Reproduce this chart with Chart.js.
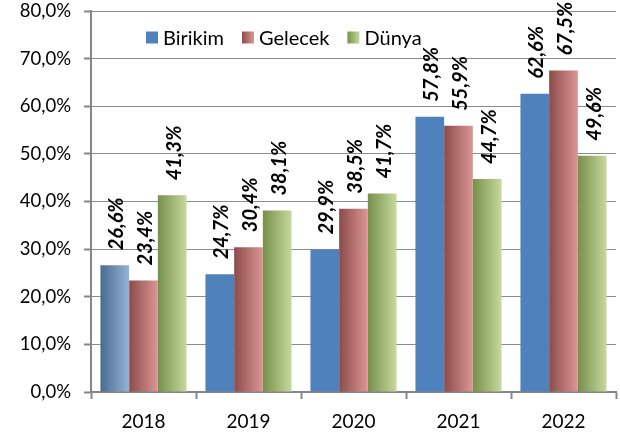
<!DOCTYPE html>
<html>
<head>
<meta charset="utf-8">
<script src="https://cdn.jsdelivr.net/npm/chart.js@4/dist/chart.umd.min.js"></script>
<style>
  html, body { margin: 0; padding: 0; background: #fff; }
  #wrap { width: 620px; height: 432px; }
</style>
</head>
<body>
<div id="wrap"><canvas id="grafik"></canvas></div>
<script>
// yıllar ve seriler
const years = ['2018', '2019', '2020', '2021', '2022'];
const birikim = [26.6, 24.7, 29.9, 57.8, 62.6];
const gelecek = [23.4, 30.4, 38.5, 55.9, 67.5];
const dunya = [41.3, 38.1, 41.7, 44.7, 49.6];
const seriesNames = ['Birikim', 'Gelecek', 'Dünya'];
const yTicks = [0, 10, 20, 30, 40, 50, 60, 70, 80];

const FONT = 'Lato, "Open Sans", sans-serif';
const GRAY = '#868686';

// renkler (koyu -> açık degrade)
const blueFlat = '#4F81BD';
const blueGrad = ['#4A6A92', '#95B3D7'];
const redGrad = ['#8C4B49', '#DA9694'];
const greenGrad = ['#76904A', '#C6D99E'];

function pct(v) {
  return v.toFixed(1).replace('.', ',') + '%';
}

// her çubuk için yatay degrade
const gradientPlugin = {
  id: 'barGradient',
  beforeDatasetsDraw(chart) {
    const ctx = chart.ctx;
    chart.data.datasets.forEach((ds, i) => {
      const meta = chart.getDatasetMeta(i);
      meta.data.forEach((bar, j) => {
        const stops = ds.grads[j];
        if (!stops) return;
        const g = ctx.createLinearGradient(bar.x - bar.width / 2, 0, bar.x + bar.width / 2, 0);
        g.addColorStop(0, stops[0]);
        g.addColorStop(1, stops[1]);
        bar.options.backgroundColor = g;
      });
    });
  }
};

// dikey, kalın italik değer etiketleri
const labelPlugin = {
  id: 'valueLabels',
  afterDatasetsDraw(chart) {
    const ctx = chart.ctx;
    ctx.save();
    ctx.font = 'italic bold 20px ' + FONT;
    ctx.fillStyle = '#000';
    ctx.textAlign = 'left';
    ctx.textBaseline = 'middle';
    chart.data.datasets.forEach((ds, i) => {
      const meta = chart.getDatasetMeta(i);
      meta.data.forEach((bar, j) => {
        ctx.save();
        ctx.translate(bar.x + 2, bar.y - 15);
        ctx.rotate(-Math.PI / 2);
        ctx.fillText(pct(ds.data[j]), 0, 0);
        ctx.restore();
      });
    });
    ctx.restore();
  }
};

// grafik alanının içindeki açıklama
const legendPlugin = {
  id: 'insideLegend',
  afterDraw(chart) {
    const ctx = chart.ctx;
    ctx.save();
    ctx.font = '20px ' + FONT;
    ctx.textBaseline = 'middle';
    ctx.textAlign = 'left';
    let x = 146;
    const y = 37.5;
    chart.data.datasets.forEach((ds) => {
      const s = 12;
      if (ds.legendGrad) {
        const g = ctx.createLinearGradient(x, 0, x + s, 0);
        g.addColorStop(0, ds.legendGrad[0]);
        g.addColorStop(1, ds.legendGrad[1]);
        ctx.fillStyle = g;
      } else {
        ctx.fillStyle = blueFlat;
      }
      ctx.fillRect(x, y - s / 2, s, s);
      ctx.fillStyle = '#000';
      ctx.fillText(ds.label, x + s + 5, y + 1);
      x += s + 5 + ctx.measureText(ds.label).width + 18;
    });
    ctx.restore();
  }
};

new Chart(document.getElementById('grafik'), {
  type: 'bar',
  data: {
    labels: years,
    datasets: [
      {
        label: seriesNames[0],
        data: birikim,
        backgroundColor: () => blueFlat,
        grads: [blueGrad, null, null, null, null],
        legendGrad: null
      },
      {
        label: seriesNames[1],
        data: gelecek,
        backgroundColor: () => '#C0504D',
        grads: years.map(() => redGrad),
        legendGrad: redGrad
      },
      {
        label: seriesNames[2],
        data: dunya,
        backgroundColor: () => '#9BBB59',
        grads: years.map(() => greenGrad),
        legendGrad: greenGrad
      }
    ]
  },
  options: {
    responsive: true,
    maintainAspectRatio: false,
    animation: false,
    layout: { padding: { top: 11, right: 4, left: 0, bottom: 0 } },
    datasets: {
      bar: { categoryPercentage: 0.82, barPercentage: 1.0 }
    },
    plugins: {
      legend: { display: false },
      tooltip: { enabled: false }
    },
    scales: {
      x: {
        offset: true,
        border: { color: GRAY, width: 2 },
        grid: {
          offset: true,
          drawOnChartArea: false,
          drawTicks: true,
          tickLength: 7,
          tickColor: GRAY,
          tickWidth: 2
        },
        ticks: { color: '#000', font: { family: FONT, size: 19 }, padding: 11 },
        afterFit(scale) { scale.height = 40; }
      },
      y: {
        min: 0,
        max: 80,
        afterBuildTicks(scale) {
          scale.ticks = yTicks.map(v => ({ value: v }));
        },
        border: { color: GRAY, width: 2 },
        grid: {
          color: (c) => c.tick && c.tick.value === 0 ? 'rgba(0,0,0,0)' : '#8C8C8C',
          borderDash: [2, 2],
          lineWidth: 1,
          drawTicks: true,
          tickLength: 7,
          tickColor: GRAY,
          tickWidth: 2,
          tickBorderDash: []
        },
        ticks: {
          color: '#000',
          font: { family: FONT, size: 18.5 },
          padding: 13,
          callback: (v) => pct(v)
        },
        afterFit(scale) {
          scale.width = 91;
          scale.paddingTop = 0;
          scale.paddingBottom = 0;
        }
      }
    }
  },
  plugins: [gradientPlugin, labelPlugin, legendPlugin]
});
</script>
</body>
</html>
